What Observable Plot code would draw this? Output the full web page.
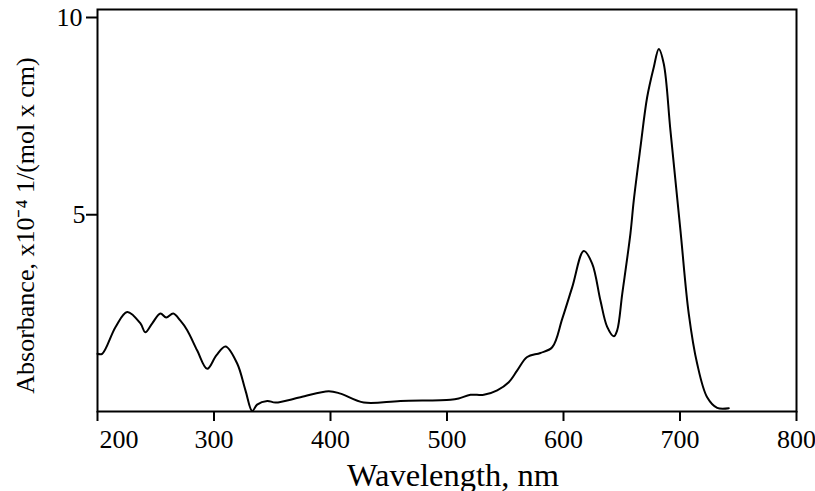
<!DOCTYPE html>
<html>
<head>
<meta charset="utf-8">
<script src="https://cdn.jsdelivr.net/npm/d3@7"></script>
<script src="https://cdn.jsdelivr.net/npm/@observablehq/plot@0.6"></script>
<style>
  html, body { margin: 0; padding: 0; background: #fff; }
  #chart { width: 815px; height: 491px; }
  svg { font-family: "Liberation Serif", "Times New Roman", serif; }
</style>
</head>
<body>
<div id="chart"></div>
<script>
// Absorption spectrum: wavelength (nm) and absorbance (x10^-4 l/(mol x cm))
const wavelength = [
  200, 204, 215.5, 225.5, 237, 241, 247, 254, 259, 265,
  271, 277, 285.6, 294.2, 302, 309.9, 319.9, 327, 332.8, 337,
  345.7, 352.8, 374.2, 398.5, 408.6, 428.6, 460, 503, 510, 520.2,
  531.6, 543.1, 553, 560.3, 568.8, 580.2, 590.3, 598.9, 607.5, 617.4,
  624.6, 631.7, 637.5, 643.2, 646.1, 650.4, 657.5, 660.3, 666, 671.8,
  677.5, 681.8, 686.1, 691.8, 700.4, 707.5, 714.7, 723.3, 731.9, 741.9
];
const absorbance = [
  1.53, 1.53, 2.19, 2.56, 2.27, 2.06, 2.28, 2.52, 2.42, 2.52,
  2.35, 2.11, 1.61, 1.16, 1.49, 1.71, 1.29, 0.63, 0.12, 0.28,
  0.37, 0.33, 0.46, 0.61, 0.55, 0.33, 0.37, 0.40, 0.43, 0.52,
  0.52, 0.63, 0.83, 1.12, 1.45, 1.55, 1.69, 2.39, 3.17, 4.06,
  3.75, 2.84, 2.19, 1.96, 2.11, 3.0, 4.5, 5.3, 6.6, 7.84,
  8.58, 9.03, 8.66, 7.02, 4.56, 2.52, 1.29, 0.46, 0.20, 0.19
];
const xTicks = [200, 300, 400, 500, 600, 700, 800];
const yTicks = [5, 10];
const xTitle = "Wavelength, nm";
const yTitle = "Absorbance, x10\u207B\u2074 1/(mol x cm)";

const spectrum = wavelength.map((w, i) => ({w, a: absorbance[i]}));
const font = "Liberation Serif";
const tickFont = 26;

const chart = Plot.plot({
  width: 815,
  height: 491,
  marginLeft: 97,
  marginRight: 19,
  marginTop: 9,
  marginBottom: 80,
  style: {fontFamily: font, background: "#fff", color: "#000"},
  x: {domain: [200, 800]},
  y: {domain: [0.11, 10]},
  marks: [
    Plot.frame({stroke: "#000", strokeWidth: 2}),
    // bottom axis: ticks at every hundred, first label set to the right of its tick
    Plot.axisX({ticks: xTicks, tickSize: 10, tickPadding: 8, strokeWidth: 2,
      fontSize: tickFont, label: null, tickFormat: d => d === xTicks[0] ? "" : d}),
    Plot.axisX({ticks: [xTicks[0]], tickSize: 10, tickPadding: 8, strokeWidth: 0,
      fontSize: tickFont, label: null, textAnchor: "start", dx: 2}),
    // left axis
    Plot.axisY({ticks: [yTicks[0]], tickSize: 11, tickPadding: 1, strokeWidth: 2,
      fontSize: tickFont, label: null, dy: 2}),
    Plot.axisY({ticks: [yTicks[1]], tickSize: 11, tickPadding: 4, strokeWidth: 2,
      fontSize: tickFont, label: null, dy: 8}),
    Plot.text([xTitle], {frameAnchor: "bottom", lineAnchor: "top", dy: 51, dx: 6,
      fontSize: 32.5, fill: "#000"}),
    Plot.text([yTitle], {frameAnchor: "left", textAnchor: "middle", rotate: -90,
      dx: -72, dy: 15, fontSize: 26, fill: "#000"}),
    Plot.line(spectrum, {x: "w", y: "a", curve: "catmull-rom", stroke: "#000", strokeWidth: 2})
  ]
});
document.getElementById("chart").appendChild(chart);
</script>
</body>
</html>
